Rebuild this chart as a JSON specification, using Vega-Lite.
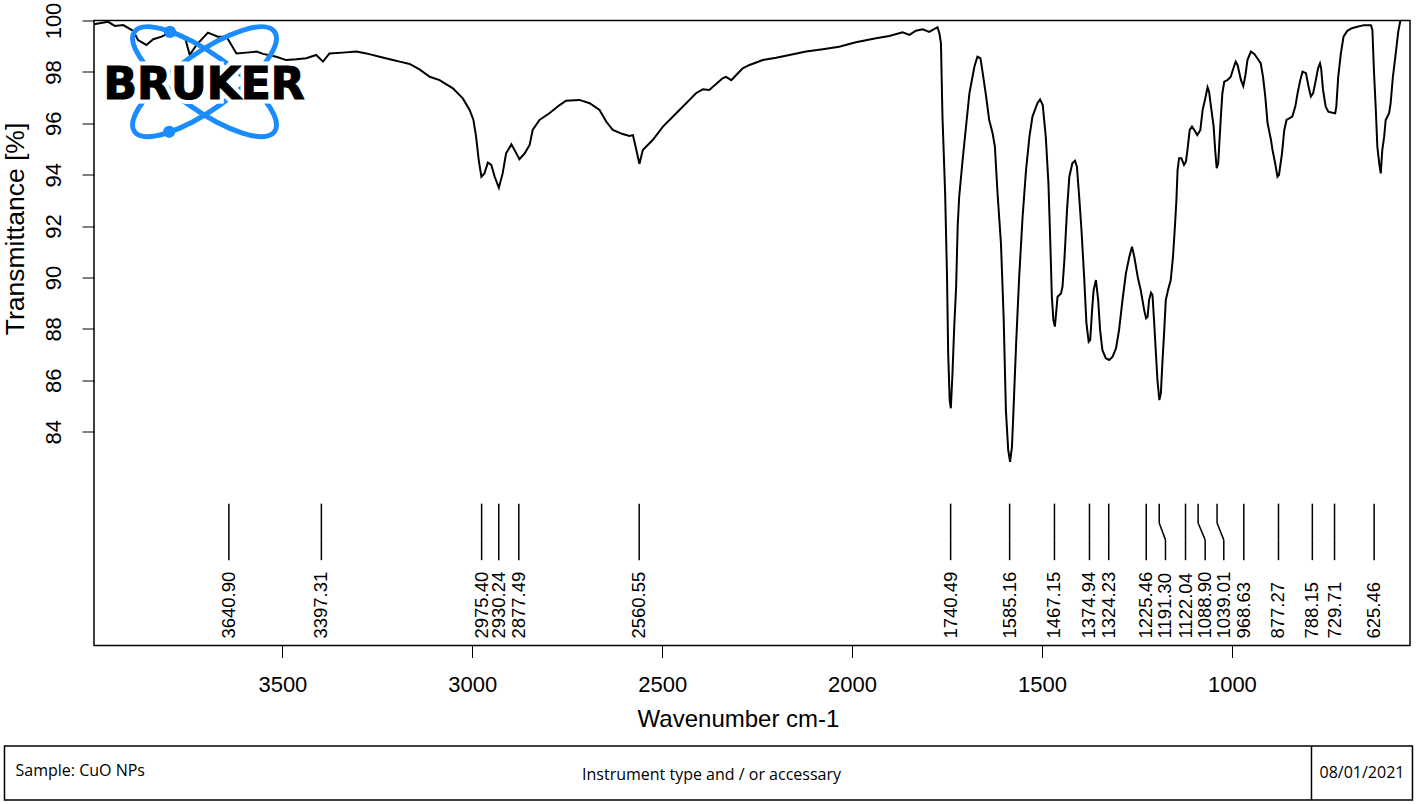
{
  "$schema": "https://vega.github.io/schema/vega-lite/v6.json",
  "background": "white",
  "padding": {"left": 2, "top": 1.5, "right": 3, "bottom": 2},
  "config": {
    "view": {"stroke": "#000", "strokeWidth": 1.5},
    "font": "Liberation Sans"
  },
  "datasets": {
    "spectrum": [
      {"wavenumber": 3996, "transmittance": 99.85}, {"wavenumber": 3959, "transmittance": 99.95}, {"wavenumber": 3941, "transmittance": 99.79}, {"wavenumber": 3919, "transmittance": 99.82}, {"wavenumber": 3893, "transmittance": 99.6}, {"wavenumber": 3880, "transmittance": 99.24}, {"wavenumber": 3858, "transmittance": 99.05}, {"wavenumber": 3840, "transmittance": 99.27}, {"wavenumber": 3818, "transmittance": 99.37}, {"wavenumber": 3788, "transmittance": 99.6}, {"wavenumber": 3757, "transmittance": 99.37}, {"wavenumber": 3744, "transmittance": 98.66}, {"wavenumber": 3726, "transmittance": 99.05}, {"wavenumber": 3696, "transmittance": 99.53}, {"wavenumber": 3670, "transmittance": 99.37}, {"wavenumber": 3647, "transmittance": 99.37}, {"wavenumber": 3621, "transmittance": 98.72}, {"wavenumber": 3595, "transmittance": 98.75}, {"wavenumber": 3568, "transmittance": 98.79}, {"wavenumber": 3551, "transmittance": 98.7}, {"wavenumber": 3516, "transmittance": 98.59}, {"wavenumber": 3490, "transmittance": 98.46}, {"wavenumber": 3463, "transmittance": 98.49}, {"wavenumber": 3437, "transmittance": 98.53}, {"wavenumber": 3411, "transmittance": 98.66}, {"wavenumber": 3393, "transmittance": 98.4}, {"wavenumber": 3376, "transmittance": 98.72}, {"wavenumber": 3341, "transmittance": 98.75}, {"wavenumber": 3305, "transmittance": 98.79}, {"wavenumber": 3279, "transmittance": 98.72}, {"wavenumber": 3244, "transmittance": 98.59}, {"wavenumber": 3209, "transmittance": 98.46}, {"wavenumber": 3191, "transmittance": 98.4}, {"wavenumber": 3165, "transmittance": 98.31}, {"wavenumber": 3139, "transmittance": 98.1}, {"wavenumber": 3112, "transmittance": 97.81}, {"wavenumber": 3086, "transmittance": 97.68}, {"wavenumber": 3051, "transmittance": 97.36}, {"wavenumber": 3025, "transmittance": 96.97}, {"wavenumber": 3007, "transmittance": 96.52}, {"wavenumber": 2997, "transmittance": 96.13}, {"wavenumber": 2990, "transmittance": 95.48}, {"wavenumber": 2983, "transmittance": 94.57}, {"wavenumber": 2976, "transmittance": 93.92}, {"wavenumber": 2968, "transmittance": 94.05}, {"wavenumber": 2959, "transmittance": 94.47}, {"wavenumber": 2950, "transmittance": 94.38}, {"wavenumber": 2941, "transmittance": 93.92}, {"wavenumber": 2930, "transmittance": 93.49}, {"wavenumber": 2920, "transmittance": 94.05}, {"wavenumber": 2911, "transmittance": 94.83}, {"wavenumber": 2897, "transmittance": 95.18}, {"wavenumber": 2884, "transmittance": 94.83}, {"wavenumber": 2876, "transmittance": 94.6}, {"wavenumber": 2862, "transmittance": 94.83}, {"wavenumber": 2849, "transmittance": 95.16}, {"wavenumber": 2841, "transmittance": 95.74}, {"wavenumber": 2823, "transmittance": 96.13}, {"wavenumber": 2797, "transmittance": 96.39}, {"wavenumber": 2770, "transmittance": 96.71}, {"wavenumber": 2753, "transmittance": 96.88}, {"wavenumber": 2718, "transmittance": 96.91}, {"wavenumber": 2691, "transmittance": 96.78}, {"wavenumber": 2665, "transmittance": 96.52}, {"wavenumber": 2647, "transmittance": 96.06}, {"wavenumber": 2630, "transmittance": 95.74}, {"wavenumber": 2604, "transmittance": 95.58}, {"wavenumber": 2586, "transmittance": 95.51}, {"wavenumber": 2577, "transmittance": 95.54}, {"wavenumber": 2568, "transmittance": 94.96}, {"wavenumber": 2560, "transmittance": 94.42}, {"wavenumber": 2551, "transmittance": 94.96}, {"wavenumber": 2525, "transmittance": 95.35}, {"wavenumber": 2498, "transmittance": 95.87}, {"wavenumber": 2463, "transmittance": 96.39}, {"wavenumber": 2428, "transmittance": 96.91}, {"wavenumber": 2411, "transmittance": 97.17}, {"wavenumber": 2393, "transmittance": 97.32}, {"wavenumber": 2376, "transmittance": 97.3}, {"wavenumber": 2358, "transmittance": 97.53}, {"wavenumber": 2341, "transmittance": 97.75}, {"wavenumber": 2332, "transmittance": 97.81}, {"wavenumber": 2318, "transmittance": 97.68}, {"wavenumber": 2305, "transmittance": 97.88}, {"wavenumber": 2288, "transmittance": 98.14}, {"wavenumber": 2270, "transmittance": 98.27}, {"wavenumber": 2235, "transmittance": 98.46}, {"wavenumber": 2200, "transmittance": 98.55}, {"wavenumber": 2165, "transmittance": 98.66}, {"wavenumber": 2121, "transmittance": 98.79}, {"wavenumber": 2077, "transmittance": 98.88}, {"wavenumber": 2034, "transmittance": 98.98}, {"wavenumber": 1990, "transmittance": 99.15}, {"wavenumber": 1937, "transmittance": 99.31}, {"wavenumber": 1902, "transmittance": 99.4}, {"wavenumber": 1867, "transmittance": 99.54}, {"wavenumber": 1849, "transmittance": 99.44}, {"wavenumber": 1832, "transmittance": 99.6}, {"wavenumber": 1814, "transmittance": 99.66}, {"wavenumber": 1797, "transmittance": 99.56}, {"wavenumber": 1775, "transmittance": 99.74}, {"wavenumber": 1770, "transmittance": 99.5}, {"wavenumber": 1766, "transmittance": 99.11}, {"wavenumber": 1762, "transmittance": 96.26}, {"wavenumber": 1755, "transmittance": 93.28}, {"wavenumber": 1750, "transmittance": 90.03}, {"wavenumber": 1747, "transmittance": 87.05}, {"wavenumber": 1743, "transmittance": 85.23}, {"wavenumber": 1740, "transmittance": 84.91}, {"wavenumber": 1736, "transmittance": 86.14}, {"wavenumber": 1731, "transmittance": 88.09}, {"wavenumber": 1726, "transmittance": 89.64}, {"wavenumber": 1722, "transmittance": 91.98}, {"wavenumber": 1718, "transmittance": 93.14}, {"wavenumber": 1709, "transmittance": 94.57}, {"wavenumber": 1700, "transmittance": 95.87}, {"wavenumber": 1691, "transmittance": 97.17}, {"wavenumber": 1678, "transmittance": 98.2}, {"wavenumber": 1670, "transmittance": 98.59}, {"wavenumber": 1662, "transmittance": 98.53}, {"wavenumber": 1656, "transmittance": 97.95}, {"wavenumber": 1647, "transmittance": 97.04}, {"wavenumber": 1639, "transmittance": 96.13}, {"wavenumber": 1630, "transmittance": 95.61}, {"wavenumber": 1624, "transmittance": 95.09}, {"wavenumber": 1617, "transmittance": 93.28}, {"wavenumber": 1608, "transmittance": 91.33}, {"wavenumber": 1601, "transmittance": 88.47}, {"wavenumber": 1595, "transmittance": 84.84}, {"wavenumber": 1589, "transmittance": 83.29}, {"wavenumber": 1584, "transmittance": 82.83}, {"wavenumber": 1579, "transmittance": 83.42}, {"wavenumber": 1575, "transmittance": 84.84}, {"wavenumber": 1568, "transmittance": 87.44}, {"wavenumber": 1560, "transmittance": 90.03}, {"wavenumber": 1551, "transmittance": 92.37}, {"wavenumber": 1542, "transmittance": 94.18}, {"wavenumber": 1533, "transmittance": 95.48}, {"wavenumber": 1525, "transmittance": 96.26}, {"wavenumber": 1512, "transmittance": 96.78}, {"wavenumber": 1505, "transmittance": 96.93}, {"wavenumber": 1498, "transmittance": 96.71}, {"wavenumber": 1490, "transmittance": 95.48}, {"wavenumber": 1483, "transmittance": 93.67}, {"wavenumber": 1478, "transmittance": 91.33}, {"wavenumber": 1474, "transmittance": 89.25}, {"wavenumber": 1470, "transmittance": 88.35}, {"wavenumber": 1466, "transmittance": 88.09}, {"wavenumber": 1462, "transmittance": 88.74}, {"wavenumber": 1459, "transmittance": 89.25}, {"wavenumber": 1450, "transmittance": 89.38}, {"wavenumber": 1446, "transmittance": 89.64}, {"wavenumber": 1441, "transmittance": 90.68}, {"wavenumber": 1434, "transmittance": 92.63}, {"wavenumber": 1428, "transmittance": 93.92}, {"wavenumber": 1420, "transmittance": 94.44}, {"wavenumber": 1413, "transmittance": 94.54}, {"wavenumber": 1408, "transmittance": 94.31}, {"wavenumber": 1402, "transmittance": 93.14}, {"wavenumber": 1396, "transmittance": 91.85}, {"wavenumber": 1389, "transmittance": 90.03}, {"wavenumber": 1383, "transmittance": 88.22}, {"wavenumber": 1377, "transmittance": 87.5}, {"wavenumber": 1373, "transmittance": 87.57}, {"wavenumber": 1368, "transmittance": 88.74}, {"wavenumber": 1364, "transmittance": 89.51}, {"wavenumber": 1358, "transmittance": 89.9}, {"wavenumber": 1352, "transmittance": 89.12}, {"wavenumber": 1347, "transmittance": 87.96}, {"wavenumber": 1341, "transmittance": 87.18}, {"wavenumber": 1332, "transmittance": 86.86}, {"wavenumber": 1323, "transmittance": 86.79}, {"wavenumber": 1314, "transmittance": 86.92}, {"wavenumber": 1305, "transmittance": 87.25}, {"wavenumber": 1297, "transmittance": 87.96}, {"wavenumber": 1288, "transmittance": 89.12}, {"wavenumber": 1279, "transmittance": 90.16}, {"wavenumber": 1270, "transmittance": 90.81}, {"wavenumber": 1263, "transmittance": 91.2}, {"wavenumber": 1257, "transmittance": 90.81}, {"wavenumber": 1248, "transmittance": 90.03}, {"wavenumber": 1240, "transmittance": 89.51}, {"wavenumber": 1231, "transmittance": 88.74}, {"wavenumber": 1226, "transmittance": 88.41}, {"wavenumber": 1222, "transmittance": 88.47}, {"wavenumber": 1218, "transmittance": 89.12}, {"wavenumber": 1213, "transmittance": 89.41}, {"wavenumber": 1209, "transmittance": 89.32}, {"wavenumber": 1205, "transmittance": 88.35}, {"wavenumber": 1200, "transmittance": 87.05}, {"wavenumber": 1196, "transmittance": 86.01}, {"wavenumber": 1191, "transmittance": 85.23}, {"wavenumber": 1187, "transmittance": 85.49}, {"wavenumber": 1183, "transmittance": 86.66}, {"wavenumber": 1178, "transmittance": 87.96}, {"wavenumber": 1174, "transmittance": 89.12}, {"wavenumber": 1168, "transmittance": 89.51}, {"wavenumber": 1161, "transmittance": 89.9}, {"wavenumber": 1155, "transmittance": 90.81}, {"wavenumber": 1150, "transmittance": 91.98}, {"wavenumber": 1146, "transmittance": 93.02}, {"wavenumber": 1143, "transmittance": 94.18}, {"wavenumber": 1139, "transmittance": 94.64}, {"wavenumber": 1133, "transmittance": 94.64}, {"wavenumber": 1126, "transmittance": 94.38}, {"wavenumber": 1121, "transmittance": 94.51}, {"wavenumber": 1117, "transmittance": 94.96}, {"wavenumber": 1111, "transmittance": 95.74}, {"wavenumber": 1105, "transmittance": 95.87}, {"wavenumber": 1099, "transmittance": 95.74}, {"wavenumber": 1091, "transmittance": 95.54}, {"wavenumber": 1083, "transmittance": 95.74}, {"wavenumber": 1077, "transmittance": 96.52}, {"wavenumber": 1070, "transmittance": 96.97}, {"wavenumber": 1064, "transmittance": 97.4}, {"wavenumber": 1060, "transmittance": 97.23}, {"wavenumber": 1055, "transmittance": 96.65}, {"wavenumber": 1048, "transmittance": 95.87}, {"wavenumber": 1044, "transmittance": 94.96}, {"wavenumber": 1040, "transmittance": 94.25}, {"wavenumber": 1036, "transmittance": 94.44}, {"wavenumber": 1033, "transmittance": 95.22}, {"wavenumber": 1029, "transmittance": 96.26}, {"wavenumber": 1025, "transmittance": 97.17}, {"wavenumber": 1020, "transmittance": 97.62}, {"wavenumber": 1012, "transmittance": 97.68}, {"wavenumber": 1003, "transmittance": 97.81}, {"wavenumber": 996, "transmittance": 98.14}, {"wavenumber": 990, "transmittance": 98.4}, {"wavenumber": 985, "transmittance": 98.27}, {"wavenumber": 976, "transmittance": 97.68}, {"wavenumber": 970, "transmittance": 97.45}, {"wavenumber": 965, "transmittance": 97.81}, {"wavenumber": 959, "transmittance": 98.46}, {"wavenumber": 950, "transmittance": 98.79}, {"wavenumber": 941, "transmittance": 98.7}, {"wavenumber": 933, "transmittance": 98.53}, {"wavenumber": 924, "transmittance": 98.33}, {"wavenumber": 918, "transmittance": 97.81}, {"wavenumber": 912, "transmittance": 97.04}, {"wavenumber": 906, "transmittance": 96.0}, {"wavenumber": 897, "transmittance": 95.35}, {"wavenumber": 893, "transmittance": 94.96}, {"wavenumber": 886, "transmittance": 94.44}, {"wavenumber": 880, "transmittance": 93.92}, {"wavenumber": 876, "transmittance": 93.99}, {"wavenumber": 868, "transmittance": 94.83}, {"wavenumber": 862, "transmittance": 95.74}, {"wavenumber": 856, "transmittance": 96.13}, {"wavenumber": 849, "transmittance": 96.19}, {"wavenumber": 841, "transmittance": 96.26}, {"wavenumber": 833, "transmittance": 96.65}, {"wavenumber": 827, "transmittance": 97.17}, {"wavenumber": 820, "transmittance": 97.68}, {"wavenumber": 814, "transmittance": 98.01}, {"wavenumber": 805, "transmittance": 97.95}, {"wavenumber": 798, "transmittance": 97.42}, {"wavenumber": 792, "transmittance": 97.04}, {"wavenumber": 786, "transmittance": 97.17}, {"wavenumber": 779, "transmittance": 97.68}, {"wavenumber": 773, "transmittance": 98.14}, {"wavenumber": 768, "transmittance": 98.33}, {"wavenumber": 765, "transmittance": 98.14}, {"wavenumber": 760, "transmittance": 97.3}, {"wavenumber": 753, "transmittance": 96.65}, {"wavenumber": 746, "transmittance": 96.45}, {"wavenumber": 735, "transmittance": 96.41}, {"wavenumber": 728, "transmittance": 96.39}, {"wavenumber": 725, "transmittance": 96.65}, {"wavenumber": 720, "transmittance": 97.81}, {"wavenumber": 713, "transmittance": 98.72}, {"wavenumber": 706, "transmittance": 99.37}, {"wavenumber": 696, "transmittance": 99.6}, {"wavenumber": 684, "transmittance": 99.7}, {"wavenumber": 670, "transmittance": 99.76}, {"wavenumber": 652, "transmittance": 99.82}, {"wavenumber": 634, "transmittance": 99.82}, {"wavenumber": 630, "transmittance": 99.63}, {"wavenumber": 626, "transmittance": 98.07}, {"wavenumber": 621, "transmittance": 96.52}, {"wavenumber": 617, "transmittance": 95.09}, {"wavenumber": 612, "transmittance": 94.44}, {"wavenumber": 608, "transmittance": 94.05}, {"wavenumber": 604, "transmittance": 94.96}, {"wavenumber": 599, "transmittance": 95.48}, {"wavenumber": 595, "transmittance": 96.13}, {"wavenumber": 586, "transmittance": 96.39}, {"wavenumber": 582, "transmittance": 96.78}, {"wavenumber": 576, "transmittance": 97.81}, {"wavenumber": 568, "transmittance": 98.79}, {"wavenumber": 562, "transmittance": 99.56}, {"wavenumber": 557, "transmittance": 99.95}, {"wavenumber": 550, "transmittance": 100.4}, {"wavenumber": 531, "transmittance": 100.8}
    ],
    "peaks": [
      {"wavenumber": 3640.90, "labelWavenumber": 3640.90}, {"wavenumber": 3397.31, "labelWavenumber": 3397.31}, {"wavenumber": 2975.40, "labelWavenumber": 2975.40}, {"wavenumber": 2930.24, "labelWavenumber": 2930.24}, {"wavenumber": 2877.49, "labelWavenumber": 2877.49}, {"wavenumber": 2560.55, "labelWavenumber": 2560.55}, {"wavenumber": 1740.49, "labelWavenumber": 1740.49}, {"wavenumber": 1585.16, "labelWavenumber": 1585.16}, {"wavenumber": 1467.15, "labelWavenumber": 1467.15}, {"wavenumber": 1374.94, "labelWavenumber": 1374.94}, {"wavenumber": 1324.23, "labelWavenumber": 1324.23}, {"wavenumber": 1225.46, "labelWavenumber": 1225.46}, {"wavenumber": 1191.30, "labelWavenumber": 1174.8}, {"wavenumber": 1122.04, "labelWavenumber": 1122.04}, {"wavenumber": 1088.90, "labelWavenumber": 1070.3}, {"wavenumber": 1039.01, "labelWavenumber": 1021.3}, {"wavenumber": 968.63, "labelWavenumber": 968.63}, {"wavenumber": 877.27, "labelWavenumber": 877.27}, {"wavenumber": 788.15, "labelWavenumber": 788.15}, {"wavenumber": 729.71, "labelWavenumber": 729.71}, {"wavenumber": 625.46, "labelWavenumber": 625.46}
    ],
    "footer": [
      {"key": "sample", "text": "Sample: CuO NPs"},
      {"key": "instrument", "text": "Instrument type and / or accessary"},
      {"key": "date", "text": "08/01/2021"}
    ]
  },
  "width": 1316,
  "height": 625,
  "layer": [
    {
      "data": {"name": "spectrum"},
      "mark": {"type": "line", "color": "#000", "strokeWidth": 2, "clip": true},
      "encoding": {
        "x": {
          "field": "wavenumber", "type": "quantitative",
          "scale": {"domain": [531, 3996], "reverse": true, "nice": false, "zero": false},
          "axis": {
            "title": "Wavenumber cm-1", "values": [1000, 1500, 2000, 2500, 3000, 3500], "format": "d",
            "grid": false, "domain": false, "tickSize": 12, "tickColor": "#000", "tickWidth": 1,
            "labelFont": "Liberation Sans", "labelFontSize": 22, "labelColor": "#000", "labelPadding": 17,
            "labelFlush": false, "labelOverlap": false,
            "titleFont": "Liberation Sans", "titleFontSize": 24, "titleFontWeight": "normal", "titleColor": "#000",
            "titlePadding": 12, "titleX": 644
          }
        },
        "y": {
          "field": "transmittance", "type": "quantitative",
          "scale": {"domain": [75.68, 100], "nice": false, "zero": false},
          "axis": {
            "title": "Transmittance [%]", "values": [84, 86, 88, 90, 92, 94, 96, 98, 100],
            "grid": false, "domain": false, "tickSize": 12, "tickColor": "#000", "tickWidth": 1,
            "labelAngle": -90, "labelAlign": "center", "labelBaseline": "bottom",
            "labelFont": "Liberation Sans", "labelFontSize": 22, "labelColor": "#000", "labelPadding": 17,
            "labelFlush": false, "labelOverlap": false,
            "titleFont": "Liberation Sans", "titleFontSize": 26.5, "titleFontWeight": "normal", "titleColor": "#000",
            "titlePadding": 13, "titleY": 208
          }
        }
      }
    },
    {
      "data": {"name": "peaks"},
      "mark": {"type": "rule", "color": "#000", "strokeWidth": 1.5},
      "encoding": {
        "x": {"field": "wavenumber", "type": "quantitative"},
        "y": {"datum": 81.2},
        "y2": {"datum": 80.45}
      }
    },
    {
      "data": {"name": "peaks"},
      "mark": {"type": "rule", "color": "#000", "strokeWidth": 1.5},
      "encoding": {
        "x": {"field": "wavenumber", "type": "quantitative"},
        "x2": {"field": "labelWavenumber"},
        "y": {"datum": 80.45},
        "y2": {"datum": 79.79}
      }
    },
    {
      "data": {"name": "peaks"},
      "mark": {"type": "rule", "color": "#000", "strokeWidth": 1.5},
      "encoding": {
        "x": {"field": "labelWavenumber", "type": "quantitative"},
        "y": {"datum": 79.79},
        "y2": {"datum": 79.0}
      }
    },
    {
      "data": {"name": "peaks"},
      "mark": {"type": "text", "angle": 270, "align": "left", "baseline": "middle", "font": "Liberation Sans", "fontSize": 18.5, "color": "#000"},
      "encoding": {
        "x": {"field": "labelWavenumber", "type": "quantitative"},
        "y": {"datum": 75.95},
        "text": {"field": "wavenumber", "type": "quantitative", "format": ".2f"}
      }
    },
    {
      "data": {"values": [{"logo": "BRUKER"}]},
      "mark": {
        "type": "point", "filled": false, "stroke": "#1a8cff", "strokeWidth": 5, "opacity": 1, "size": 29584,
        "shape": "M -0.814 -0.581 A 1 0.325 35.5 0 1 0.814 0.581 A 1 0.325 35.5 0 1 -0.814 -0.581 Z M -0.814 0.581 A 1 0.325 -35.5 0 1 0.814 -0.581 A 1 0.325 -35.5 0 1 -0.814 0.581 Z"
      },
      "encoding": {"x": {"datum": 3705}, "y": {"datum": 97.62}}
    },
    {
      "data": {"values": [{"logo": "BRUKER"}]},
      "mark": {"type": "point", "filled": true, "color": "#1a8cff", "opacity": 1, "size": 150, "shape": "circle"},
      "encoding": {"x": {"datum": 3796}, "y": {"datum": 99.56}}
    },
    {
      "data": {"values": [{"logo": "BRUKER"}]},
      "mark": {"type": "point", "filled": true, "color": "#1a8cff", "opacity": 1, "size": 150, "shape": "circle"},
      "encoding": {"x": {"datum": 3798}, "y": {"datum": 95.67}}
    },
    {
      "data": {"values": [{"logo": "BRUKER"}]},
      "mark": {"type": "text", "font": "DejaVu Sans", "fontWeight": "bold", "fontSize": 44, "align": "center", "baseline": "middle", "fill": "#fff", "stroke": "#fff", "strokeWidth": 9},
      "encoding": {"x": {"datum": 3706}, "y": {"datum": 97.45}, "text": {"field": "logo"}}
    },
    {
      "data": {"values": [{"logo": "BRUKER"}]},
      "mark": {"type": "text", "font": "DejaVu Sans", "fontWeight": "bold", "fontSize": 44, "align": "center", "baseline": "middle", "fill": "#000", "stroke": "#000", "strokeWidth": 1.2},
      "encoding": {"x": {"datum": 3706}, "y": {"datum": 97.45}, "text": {"field": "logo"}}
    },
    {
      "data": {"values": [{"part": "footer box"}]},
      "mark": {"type": "rect", "fillOpacity": 0, "stroke": "#000", "strokeWidth": 1.5},
      "encoding": {"x": {"datum": 4231.7}, "x2": {"datum": 524.5}, "y": {"datum": 71.77}, "y2": {"datum": 69.67}}
    },
    {
      "data": {"values": [{"part": "footer divider"}]},
      "mark": {"type": "rule", "color": "#000", "strokeWidth": 1.5},
      "encoding": {"x": {"datum": 790.4}, "y": {"datum": 71.77}, "y2": {"datum": 69.67}}
    },
    {
      "data": {"name": "footer"},
      "transform": [{"filter": "datum.key === 'sample'"}],
      "mark": {"type": "text", "align": "left", "baseline": "middle", "font": "Open Sans", "fontSize": 16, "color": "#000"},
      "encoding": {"x": {"datum": 4202.7}, "y": {"datum": 70.8}, "text": {"field": "text"}}
    },
    {
      "data": {"name": "footer"},
      "transform": [{"filter": "datum.key === 'instrument'"}],
      "mark": {"type": "text", "align": "center", "baseline": "middle", "font": "Open Sans", "fontSize": 16, "color": "#000"},
      "encoding": {"x": {"datum": 2370.1}, "y": {"datum": 70.65}, "text": {"field": "text"}}
    },
    {
      "data": {"name": "footer"},
      "transform": [{"filter": "datum.key === 'date'"}],
      "mark": {"type": "text", "align": "center", "baseline": "middle", "font": "Open Sans", "fontSize": 16, "color": "#000"},
      "encoding": {"x": {"datum": 657.4}, "y": {"datum": 70.72}, "text": {"field": "text"}}
    }
  ]
}
